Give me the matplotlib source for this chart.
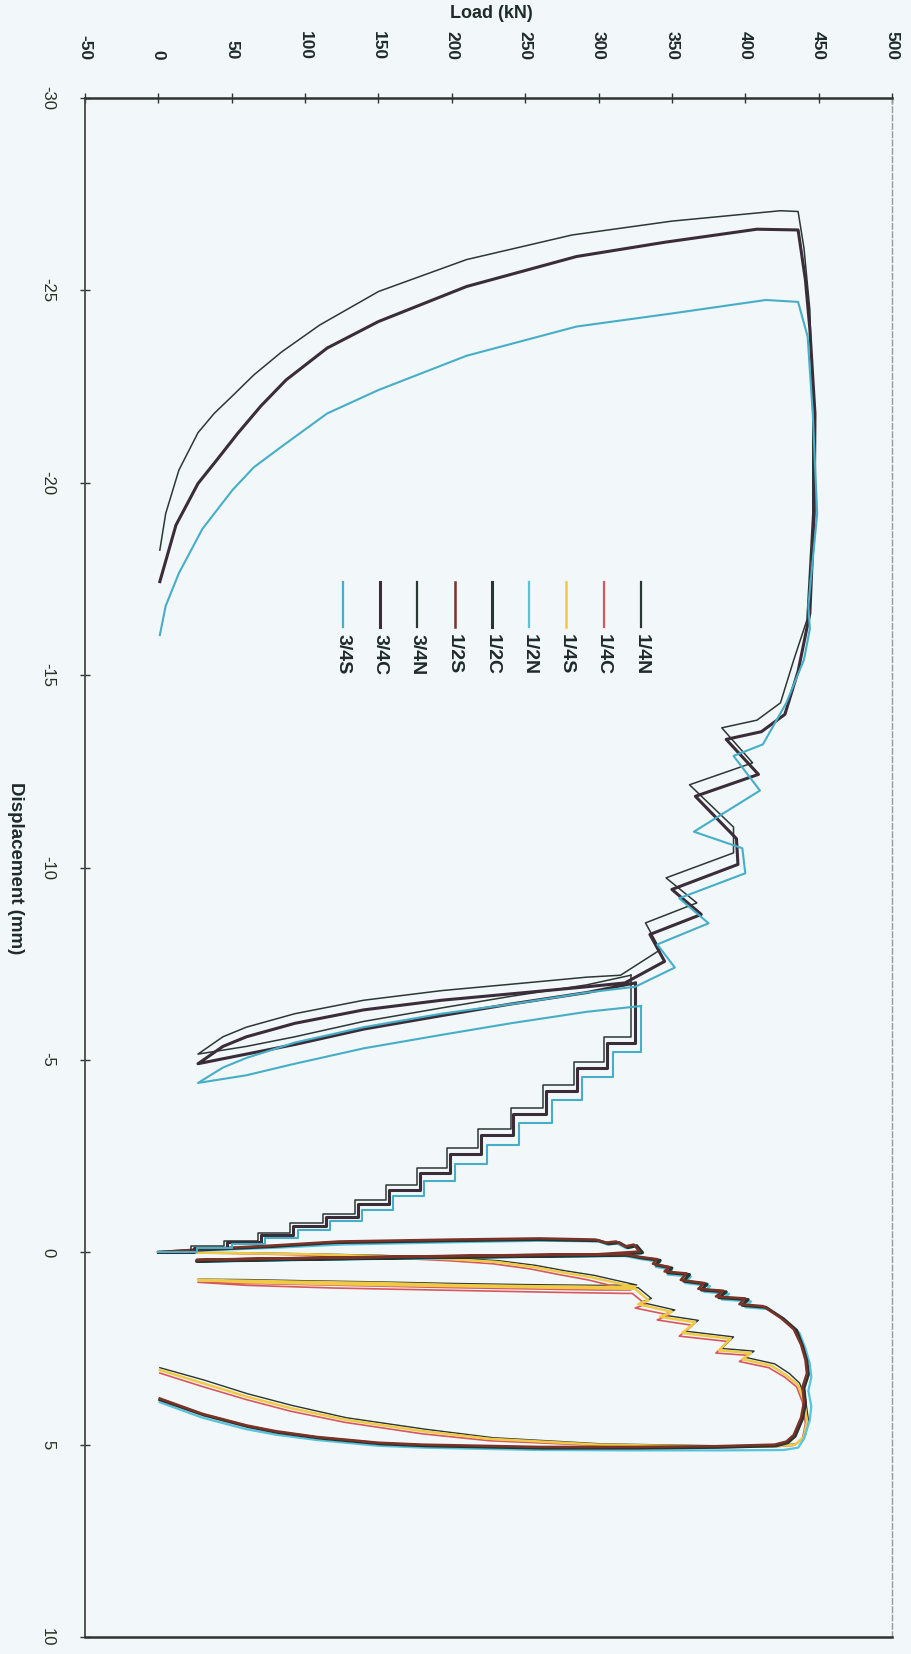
import matplotlib
matplotlib.use("Agg")
import matplotlib.pyplot as plt

plt.rcParams['font.family'] = ['Liberation Sans', 'DejaVu Sans']

# === AXES ===
load_ticks = [-50, 0, 50, 100, 150, 200, 250, 300, 350, 400, 450, 500]
disp_ticks = [-30, -25, -20, -15, -10, -5, 0, 5, 10]

# === SERIES STYLE (legend order) ===
names = ["1/4N", "1/4C", "1/4S", "1/2N", "1/2C", "1/2S", "3/4N", "3/4C", "3/4S"]
colors = ["#2a3632", "#d8575f", "#f0c945", "#55c4dc", "#263530", "#7b3328", "#2c3834", "#3a2c38", "#46aec6"]
widths = [1.0, 1.2, 1.8, 1.6, 2.2, 1.8, 1.1, 2.2, 1.5]

# === 1/4 SPECIMENS (load kN, displacement mm) ===
load_14N = [0, 52, 102, 152, 202, 232, 257, 277, 297, 312, 326, 300, 250, 200, 150, 100, 60, 27, 60, 120,
            200, 272, 322, 327, 336, 329, 352, 344, 368, 359, 392, 384, 406, 400, 420,
            430, 437, 441, 443, 441, 435, 422, 382, 302, 228, 182, 128, 91, 61, 31, 1]
disp_14N = [0, 0.01, 0.04, 0.08, 0.15, 0.22, 0.34, 0.48, 0.6, 0.73, 0.85, 0.86, 0.84, 0.81, 0.77, 0.74, 0.71, 0.7, 0.75, 0.8,
            0.85, 0.89, 0.92, 0.92, 1.2, 1.3, 1.5, 1.63, 1.77, 2.05, 2.2, 2.5, 2.57, 2.73, 2.9,
            3.15, 3.4, 3.8, 4.35, 4.75, 4.98, 5.02, 5.03, 4.98, 4.82, 4.6, 4.3, 3.98, 3.68, 3.32, 3.0]

load_14C = [0, 48, 98, 148, 198, 228, 253, 273, 293, 308, 322, 300, 250, 200, 150, 100, 60, 27, 60, 120,
            200, 268, 318, 323, 332, 325, 348, 340, 364, 355, 388, 380, 402, 396, 416,
            427, 435, 439, 441, 439, 433, 418, 378, 300, 226, 180, 127, 90, 60, 30, 1]
disp_14C = [0, 0.03, 0.07, 0.13, 0.22, 0.3, 0.43, 0.58, 0.72, 0.86, 0.98, 0.98, 0.95, 0.92, 0.88, 0.84, 0.81, 0.78, 0.86, 0.93,
            0.99, 1.04, 1.07, 1.07, 1.35, 1.45, 1.63, 1.76, 1.9, 2.18, 2.32, 2.62, 2.68, 2.84, 3.0,
            3.25, 3.5, 3.9, 4.45, 4.85, 5.02, 5.06, 5.07, 5.02, 4.9, 4.72, 4.42, 4.13, 3.83, 3.49, 3.14]

load_14S = [0, 50, 100, 150, 200, 230, 255, 275, 295, 310, 325, 300, 250, 200, 150, 100, 60, 27, 60, 120,
            200, 270, 320, 325, 334, 327, 350, 342, 366, 357, 390, 382, 404, 398, 418,
            428, 436, 440, 442, 440, 434, 420, 380, 300, 226, 180, 127, 90, 60, 30, 1]
disp_14S = [0, 0.02, 0.05, 0.1, 0.18, 0.25, 0.38, 0.52, 0.65, 0.78, 0.9, 0.9, 0.88, 0.85, 0.8, 0.77, 0.74, 0.72, 0.78, 0.83,
            0.88, 0.92, 0.95, 0.95, 1.25, 1.35, 1.55, 1.68, 1.82, 2.1, 2.25, 2.55, 2.62, 2.78, 2.95,
            3.2, 3.45, 3.85, 4.4, 4.8, 5.0, 5.04, 5.05, 5.0, 4.85, 4.65, 4.35, 4.05, 3.75, 3.4, 3.06]

# === 1/2 SPECIMENS ===
load_12N = [0, 32, 82, 125, 202, 262, 300, 306, 313, 319, 325, 329, 300, 200, 100, 26, 60, 150, 250, 318,
            329, 342, 339, 350, 347, 363, 359, 376, 372, 389, 384, 404, 400, 416, 428,
            437, 441, 444, 445, 443, 445, 444, 440, 436, 426, 385, 325, 260, 182, 150, 108, 80, 60, 30, 1]
disp_12N = [0, -0.05, -0.12, -0.2, -0.26, -0.3, -0.28, -0.2, -0.22, -0.1, -0.15, 0.04, 0.1, 0.15, 0.2, 0.25, 0.22, 0.17, 0.12, 0.1,
            0.18, 0.25, 0.38, 0.46, 0.58, 0.63, 0.8, 0.88, 1.03, 1.08, 1.23, 1.28, 1.43, 1.48, 1.8,
            2.1, 2.5, 2.9, 3.25, 3.6, 4.0, 4.36, 4.85, 5.08, 5.14, 5.15, 5.15, 5.14, 5.08, 5.03, 4.88, 4.74, 4.6, 4.3, 3.9]

load_12C = [0, 28, 78, 120, 198, 258, 300, 307, 314, 320, 326, 330, 302, 202, 102, 26, 62, 152, 252, 320,
            330, 342, 339, 350, 347, 362, 358, 374, 370, 387, 382, 402, 398, 414, 426,
            435, 439, 442, 443, 440, 441, 439, 434, 429, 421, 382, 326, 262, 182, 152, 110, 81, 61, 31, 1]
disp_12C = [0, -0.06, -0.15, -0.25, -0.3, -0.33, -0.3, -0.22, -0.25, -0.12, -0.17, 0.01, 0.08, 0.13, 0.18, 0.23, 0.2, 0.15, 0.1, 0.08,
            0.15, 0.21, 0.33, 0.41, 0.53, 0.58, 0.75, 0.83, 0.98, 1.03, 1.18, 1.23, 1.38, 1.43, 1.73,
            2.03, 2.43, 2.83, 3.18, 3.53, 3.93, 4.33, 4.78, 4.95, 5.03, 5.07, 5.09, 5.09, 5.03, 4.98, 4.83, 4.68, 4.53, 4.23, 3.83]

load_12S = [0, 30, 80, 123, 200, 260, 298, 305, 312, 318, 324, 328, 300, 200, 100, 26, 60, 150, 250, 318,
            328, 340, 337, 348, 345, 360, 356, 372, 368, 385, 380, 400, 396, 412, 424,
            433, 438, 441, 442, 439, 440, 438, 433, 428, 420, 380, 325, 260, 180, 150, 108, 80, 60, 30, 1]
disp_12S = [0, -0.08, -0.18, -0.28, -0.33, -0.36, -0.33, -0.25, -0.28, -0.15, -0.2, -0.02, 0.05, 0.1, 0.15, 0.2, 0.17, 0.12, 0.07, 0.05,
            0.12, 0.18, 0.3, 0.38, 0.5, 0.55, 0.72, 0.8, 0.95, 1.0, 1.15, 1.2, 1.35, 1.4, 1.7,
            2.0, 2.4, 2.8, 3.15, 3.5, 3.9, 4.3, 4.75, 4.92, 5.0, 5.04, 5.06, 5.06, 5.0, 4.95, 4.8, 4.65, 4.5, 4.2, 3.8]

# === 3/4 SPECIMENS: stepped loading, then cycle, sawtooth, plateau, unloading ===
step_load_34N = [0, 22, 45, 68, 90, 112, 134, 155, 176, 197, 218, 240, 262, 283, 304, 322]
step_disp_34N = [0, -0.15, -0.3, -0.5, -0.75, -1.0, -1.35, -1.75, -2.2, -2.7, -3.2, -3.75, -4.35, -4.95, -5.6, -7.2]
load_34N = [322, 292, 240, 193, 140, 93, 60, 27, 44, 60, 93, 140, 193, 250, 292, 315, 342, 332, 367, 346,
            392, 392, 362, 405, 384, 408, 424, 433, 442, 446, 446, 444, 440, 436, 424, 350, 282, 210, 150, 110,
            84, 65, 50, 38, 27, 14, 5, 1]
disp_34N = [-7.2, -6.95, -6.65, -6.35, -6.0, -5.6, -5.35, -5.15, -5.6, -5.85, -6.2, -6.55, -6.8, -7.0, -7.15, -7.2, -7.86, -8.56, -9.08, -9.73,
            -10.38, -11.05, -12.15, -12.72, -13.63, -13.83, -14.28, -15.39, -16.43, -19.2, -21.8, -24.5, -26.1, -27.05, -27.07, -26.8, -26.44, -25.8, -24.97, -24.1,
            -23.4, -22.8, -22.24, -21.8, -21.3, -20.33, -19.2, -18.25]

step_load_34C = [0, 24, 47, 70, 92, 114, 136, 157, 178, 199, 220, 242, 264, 285, 306, 325]
step_disp_34C = [0, -0.12, -0.27, -0.45, -0.68, -0.92, -1.25, -1.62, -2.05, -2.55, -3.05, -3.6, -4.2, -4.8, -5.45, -7.0]
load_34C = [325, 292, 240, 193, 140, 93, 60, 27, 44, 60, 93, 140, 193, 250, 292, 318, 345, 335, 370, 350,
            395, 394, 366, 409, 387, 411, 427, 436, 444, 447, 447.5, 444, 441, 436, 408, 345, 285, 210, 150, 115,
            87, 70, 54, 40, 27, 12, 1]
disp_34C = [-7.0, -6.75, -6.45, -6.15, -5.8, -5.4, -5.15, -4.9, -5.35, -5.6, -5.95, -6.3, -6.55, -6.75, -6.9, -7.0, -7.56, -8.26, -8.78, -9.43,
            -10.08, -10.75, -11.85, -12.42, -13.33, -13.53, -13.98, -15.1, -16.6, -19.2, -21.8, -24.0, -25.27, -26.57, -26.59, -26.25, -25.88, -25.1, -24.19, -23.5,
            -22.67, -22.0, -21.28, -20.6, -19.98, -18.9, -17.43]

step_load_34S = [0, 26, 50, 73, 95, 117, 139, 160, 181, 202, 224, 246, 268, 289, 310, 329]
step_disp_34S = [0, -0.1, -0.22, -0.38, -0.58, -0.8, -1.1, -1.45, -1.85, -2.3, -2.8, -3.35, -3.95, -4.55, -5.2, -6.4]
load_34S = [329, 292, 240, 193, 140, 93, 60, 27, 44, 60, 93, 140, 193, 250, 292, 325, 352, 340, 375, 355,
            400, 398, 365, 410, 392, 412, 428, 440, 444, 443, 449, 446, 442.5, 436, 414, 350, 285, 210, 150, 115,
            84, 65, 50.5, 30, 14, 5, 1]
disp_34S = [-6.4, -6.25, -5.95, -5.65, -5.3, -4.9, -4.6, -4.4, -4.8, -5.05, -5.45, -5.85, -6.2, -6.5, -6.75, -6.9, -7.4, -8.0, -8.55, -9.2,
            -9.85, -10.5, -10.93, -12.0, -12.9, -13.2, -14.28, -15.4, -16.2, -16.8, -19.2, -21.8, -23.8, -24.7, -24.75, -24.4, -24.06, -23.3, -22.41, -21.8,
            -20.94, -20.4, -19.81, -18.8, -17.65, -16.8, -16.04]

BG = "#f2f7f9"
TXT = "#1e2b28"

fig = plt.figure(figsize=(9.11, 16.54), dpi=100, facecolor=BG)
ax = fig.add_axes([85 / 911, 1 - 1637 / 1654, (892 - 85) / 911, (1637 - 98) / 1654])
ax.set_facecolor(BG)

plain = {
    "1/4N": (load_14N, disp_14N), "1/4C": (load_14C, disp_14C), "1/4S": (load_14S, disp_14S),
    "1/2N": (load_12N, disp_12N), "1/2C": (load_12C, disp_12C), "1/2S": (load_12S, disp_12S),
}
stepped = {
    "3/4N": (step_load_34N, step_disp_34N, load_34N, disp_34N),
    "3/4C": (step_load_34C, step_disp_34C, load_34C, disp_34C),
    "3/4S": (step_load_34S, step_disp_34S, load_34S, disp_34S),
}

for name, col, lw in zip(names, colors, widths):
    if name in plain:
        x, y = plain[name]
        ax.plot(x, y, color=col, lw=lw, solid_joinstyle="round")
    else:
        sx, sy, x, y = stepped[name]
        ax.plot(sx, sy, color=col, lw=lw, drawstyle="steps-post")
        ax.plot(x, y, color=col, lw=lw, solid_joinstyle="round")

ax.set_xlim(-50, 500)
ax.set_ylim(10, -30)

ax.xaxis.tick_top()
ax.set_xticks(load_ticks)
ax.set_xticklabels([str(v) for v in load_ticks], rotation=-90, fontsize=12.5,
                   fontweight="bold", color=TXT)
ax.set_yticks(disp_ticks)
ax.set_yticklabels([str(v) for v in disp_ticks], rotation=-90, fontsize=12,
                   color="#2b2f22", va="center")
ax.tick_params(axis="x", direction="inout", length=7, width=1, pad=24, colors="#333")
ax.tick_params(axis="y", direction="inout", length=7, width=1, pad=18, colors="#333")
for lab in ax.get_xticklabels():
    lab.set_color(TXT)
for lab in ax.get_yticklabels():
    lab.set_color("#2b2f22")

for side in ["top", "bottom"]:
    ax.spines[side].set_color("#2f3431")
    ax.spines[side].set_linewidth(1.8)
ax.spines["left"].set_color("#4a4a44")
ax.spines["left"].set_linewidth(1.3)
ax.spines["right"].set_color("#9a9a9a")
ax.spines["right"].set_linewidth(1.0)
ax.spines["right"].set_linestyle((0, (4, 2)))

# === LEGEND (rotated with the chart) ===
x_right, x_step = 0.689, 0.0462
for i, (name, col, lw) in enumerate(zip(names, colors, widths)):
    lx = x_right - i * x_step
    ax.plot([lx, lx], [0.6855, 0.6563], transform=ax.transAxes, color=col, lw=max(lw, 1.6))
    ax.text(lx, 0.652, name, transform=ax.transAxes, rotation=-90, ha="center", va="top",
            fontsize=14, fontweight="bold", color=TXT)

fig.text(491 / 911, 1 - 14 / 1654, "Load (kN)", ha="center", va="center",
         fontsize=13, fontweight="bold", color=TXT)
fig.text(15 / 911, 1 - 868 / 1654, "Displacement (mm)", rotation=-90, ha="center", va="center",
         fontsize=13.5, fontweight="bold", color=TXT)

fig.savefig("out.png", dpi=100, facecolor=BG)
